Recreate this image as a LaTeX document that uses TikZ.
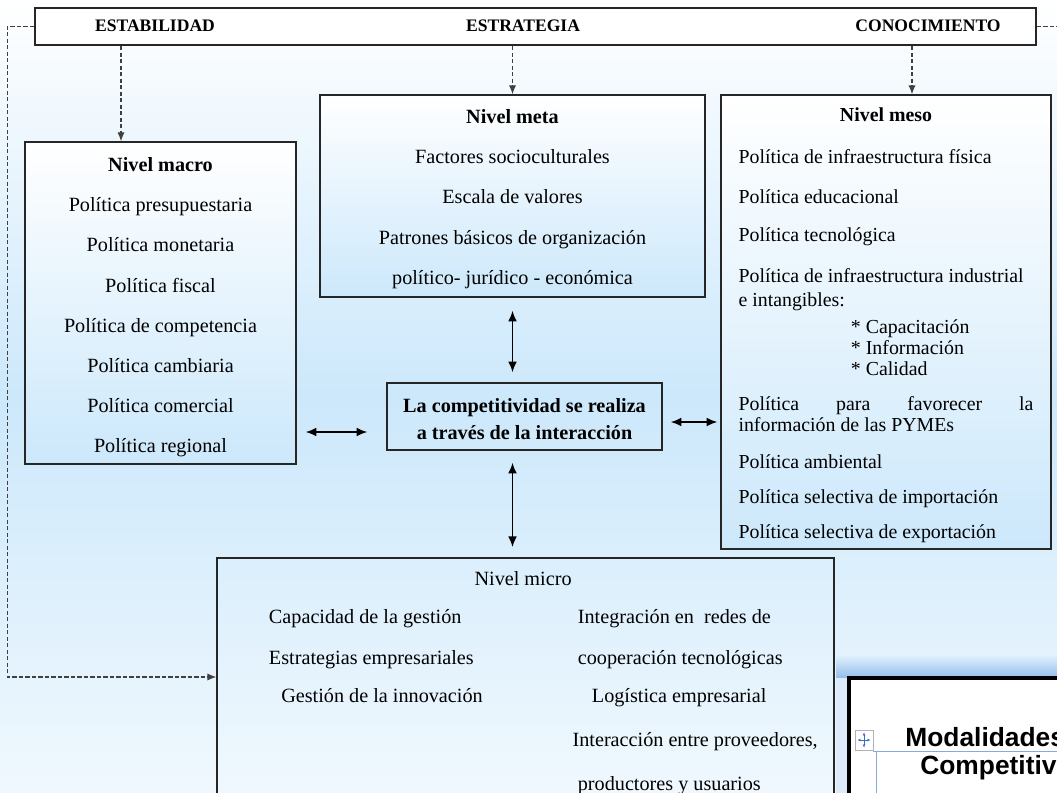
\documentclass[tikz,border=0pt]{standalone}
\usepackage{fontspec}
\setmainfont{Liberation Serif}
\newfontfamily\ventanafont{Liberation Sans}
\usepackage{xcolor}
\usepackage{tikz}
\definecolor{fondo}{RGB}{204,232,251}
\definecolor{marcoazul}{RGB}{150,190,236}
\definecolor{marcoclaro}{RGB}{220,234,250}
\definecolor{iconoazul}{RGB}{60,110,200}
\usetikzlibrary{arrows.meta,positioning,calc}

\begin{document}
\begin{tikzpicture}[
    x=0.02cm, y=-0.02cm,
    caja/.style={
        draw=black!85,
        line width=0.9pt,
        align=center,
        inner sep=0pt,
        font=\fontsize{11.5}{22.85}\selectfont
    },
    nivel/.style={
        caja,
        top color=white,
        bottom color=fondo
    },
    etiqueta/.style={font=\fontsize{10}{12}\selectfont\bfseries},
    guia/.style={draw=black!75, line width=0.6pt, dash pattern=on 2.5pt off 1.2pt, -{Latex[length=5pt,width=4pt]}},
    doble/.style={line width=0.9pt, {Latex[length=6pt,width=5pt]}-{Latex[length=6pt,width=5pt]}}
]
    \useasboundingbox (0,0) rectangle (1057,792);
    \clip (0,0) rectangle (1057,792);
    \fill[top color=white, bottom color=fondo!30, middle color=fondo] (0,0) rectangle (1057,792);

    % Cabecera
    \node[draw=black!85, line width=1.2pt, fill=white, minimum width=20.02cm, minimum height=0.74cm] (cabecera) at (535.5,26.5) {};
    \node[etiqueta] (estab) at (155,26) {ESTABILIDAD};
    \node[etiqueta] (estrat) at (523,26) {ESTRATEGIA};
    \node[etiqueta] (conoc) at (928,26) {CONOCIMIENTO};

    % Niveles
    \node[nivel, minimum width=5.42cm, minimum height=6.44cm] (macro) at (160.5,303) {\rule{0pt}{12.8pt}\textbf{Nivel macro}\\Política presupuestaria\\Política monetaria\\Política fiscal\\Política de competencia\\Política cambiaria\\Política comercial\\Política regional};
    \node[nivel, minimum width=7.7cm, minimum height=4.04cm] (meta) at (512.5,196) {\rule{0pt}{11.5pt}\textbf{Nivel meta}\\Factores socioculturales\\Escala de valores\\Patrones básicos de organización\\político- jurídico - económica};
    \node[nivel, text width=5.9cm, inner xsep=0.35cm, align=flush left, minimum height=9.08cm, font=\fontsize{11.3}{12}\selectfont] (meso) at (886,322) {\makebox[\hsize]{\rule{0pt}{11.5pt}\textbf{Nivel meso}}\\[11.8pt]
        Política de infraestructura física\\[10.7pt]
        Política educacional\\[9.5pt]
        Política tecnológica\\[11.8pt]
        Política de infraestructura industrial\\[1.6pt]
        e intangibles:\\[3.3pt]
        \hspace*{64pt}* Capacitación\\
        \hspace*{64pt}* Información\\
        \hspace*{64pt}* Calidad\\[7.8pt]
        \makebox[\hsize]{Política\hfill para\hfill favorecer\hfill la}\\
        información de las PYMEs\\[9pt]
        Política ambiental\\[7.8pt]
        Política selectiva de importación\\[7.8pt]
        Política selectiva de exportación};
    \node[caja, minimum width=5.5cm, minimum height=1.34cm, font=\fontsize{11.5}{15.3}\selectfont\bfseries] (centro) at (524.5,416.5) {\rule{0pt}{11.3pt}La competitividad se realiza\\a través de la interacción};
    \node[caja, anchor=north, minimum width=12.34cm, inner ysep=7.3pt, font=\fontsize{11.5}{12}\selectfont] (micro) at (525.5,557) {\hspace*{28.8pt}\begin{tabular}{@{}p{175.8pt}@{}p{145pt}@{}}
        \multicolumn{2}{@{}l@{}}{\hspace*{117pt}Nivel micro}\\[9.5pt]
        Capacidad de la gestión & Integración en~ redes de\\[11.8pt]
        Estrategias empresariales & cooperación tecnológicas\\[9.5pt]
        \hspace*{7pt}Gestión de la innovación & \hspace*{8pt}Logística empresarial\\[12.9pt]
        & \hspace*{-3pt}Interacción entre proveedores,\\[12.9pt]
        & productores y usuarios
    \end{tabular}};

    % Conexiones
    \draw[guia] ([xshift=-0.79cm]macro.north |- cabecera.south) -- ([xshift=-0.79cm]macro.north);
    \draw[guia] (meta.north |- cabecera.south) -- (meta.north);
    \draw[guia] ([xshift=0.52cm]meso.north |- cabecera.south) -- ([xshift=0.52cm]meso.north);
    \draw[guia] (cabecera.west) -- ++(-27,0) |- ([yshift=-2.4cm]micro.north west);
    \draw[guia, -] (cabecera.east) -- ++(30,0);
    \draw[doble, shorten <=0.26cm, shorten >=0.2cm] (meta.south) -- (meta.south |- centro.north);
    \draw[doble, shorten <=0.24cm, shorten >=0.2cm] (centro.south -| meta.south) -- (micro.north -| meta.south);
    \draw[doble, shorten <=0.38cm, shorten >=0.18cm] ([yshift=-0.31cm]centro.west) -- ([yshift=-0.31cm]centro.west -| macro.east);
    \draw[doble, shorten <=0.16cm, shorten >=0.06cm] ([yshift=-0.11cm]centro.east) -- ([yshift=-0.11cm]centro.east -| meso.west);

    % Ventana superpuesta
    \fill[marcoclaro] (836,665) rectangle (1060,800);
    \fill[top color=fondo!60, bottom color=marcoazul] (836,655) rectangle (1060,677);
    \draw[line width=2.2pt, fill=white] (849,678) rectangle (1075,815);
    \draw[gray!60, fill=white] (855,730) rectangle (873,750);
    \draw[iconoazul, line width=0.5pt, {Stealth[length=2pt]}-{Stealth[length=2pt]}] (857.5,740) -- (870.5,740);
    \draw[iconoazul, line width=0.5pt, {Stealth[length=2pt]}-{Stealth[length=2pt]}] (864,732.5) -- (864,747.5);
    \draw[iconoazul!60] (873,751) -- (1060,751);
    \draw[iconoazul!60] (876,751) -- (876,800);
    \node[anchor=west, inner sep=0pt, font=\ventanafont\bfseries\fontsize{15}{18}\selectfont] (modal) at (905,737) {Modalidades};
    \node[anchor=west, inner sep=0pt, font=\ventanafont\bfseries\fontsize{15}{18}\selectfont] (compet) at (920,768) {Competitivi};
\end{tikzpicture}
\end{document}
